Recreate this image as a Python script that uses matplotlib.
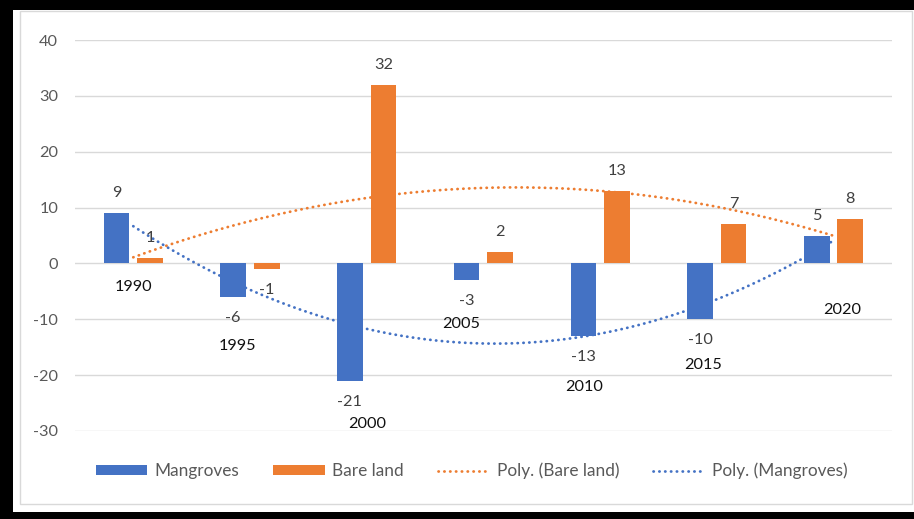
import numpy as np
import matplotlib.pyplot as plt
from matplotlib.patches import Rectangle, Patch
from matplotlib.lines import Line2D

# data
years = ['1990', '1995', '2000', '2005', '2010', '2015', '2020']
mangroves = [9, -6, -21, -3, -13, -10, 5]
bare_land = [1, -1, 32, 2, 13, 7, 8]

# the year labels were dragged around by hand in the original (data coords)
year_label_x = [0.0, 0.89, 2.0, 2.81, 3.86, 4.88, 6.07]
year_label_y = [-4.2, -14.8, -28.7, -10.9, -22.2, -18.1, -8.4]

blue = '#4472C4'
orange = '#ED7D31'
grey_txt = '#595959'
grid_c = '#D9D9D9'
fs = 11.7
fs_leg = 12.4

plt.rcParams['font.family'] = ['Lato', 'DejaVu Sans']
plt.rcParams['axes.unicode_minus'] = False

W, H = 914, 519
fig = plt.figure(figsize=(W / 100, H / 100), dpi=100)
fig.patch.set_facecolor('white')

# black frame (top, left, bottom) + light grey chart border
fig.add_artist(Rectangle((0, 1 - 10 / H), 1, 10 / H, transform=fig.transFigure, color='black', lw=0))
fig.add_artist(Rectangle((0, 0), 13 / W, 1, transform=fig.transFigure, color='black', lw=0))
fig.add_artist(Rectangle((0, 0), 1, 7 / H, transform=fig.transFigure, color='black', lw=0))
fig.add_artist(Rectangle((19.5 / W, 1 - 504 / H), (912 - 19.5) / W, (504 - 10.5) / H,
                         transform=fig.transFigure, fill=False, edgecolor=grid_c, lw=1))

ax = fig.add_axes([74.9 / W, 1 - 431 / H, 817 / W, 391 / H])
x = np.arange(len(years))
w = 0.22
off = 0.1435
ax.bar(x - off, mangroves, w, color=blue, zorder=2)
ax.bar(x + off, bare_land, w, color=orange, zorder=2)

# value labels
for xs_, vals in [(x - off, mangroves), (x + off, bare_land)]:
    for xi, v in zip(xs_, vals):
        ax.annotate(str(v), (xi, v), xytext=(0, 20 if v >= 0 else -21),
                    textcoords='offset pixels', ha='center', va='center',
                    fontsize=fs, color='#404040', zorder=5)

# polynomial (order 2) trendlines
dots = (0, (0.1, 2.0))
xs = np.linspace(0, len(years) - 1, 300)
for vals, c in [(bare_land, orange), (mangroves, blue)]:
    coef = np.polyfit(x, vals, 2)
    ax.plot(xs, np.polyval(coef, xs), color=c, lw=2.0, linestyle=dots,
            dash_capstyle='round', zorder=4)

# year labels
for xx, yy, yr in zip(year_label_x, year_label_y, years):
    ax.text(xx, yy, yr, ha='center', va='center', fontsize=fs, color='#111111', zorder=5)

ax.set_xlim(-0.5, len(years) - 0.5)
ax.set_ylim(-30, 40)
ax.set_yticks(range(-30, 41, 10))
ax.set_xticks([])
ax.tick_params(axis='y', length=0, pad=12, labelsize=fs, labelcolor=grey_txt)
ax.yaxis.grid(True, color=grid_c, lw=1)
ax.set_axisbelow(True)
for s in ax.spines.values():
    s.set_visible(False)
ax.patch.set_alpha(0)

handles = [Patch(facecolor=blue), Patch(facecolor=orange),
           Line2D([], [], color=orange, lw=2.0, linestyle=dots, dash_capstyle='round'),
           Line2D([], [], color=blue, lw=2.0, linestyle=dots, dash_capstyle='round')]
labels = ['Mangroves', 'Bare land', 'Poly. (Bare land)', 'Poly. (Mangroves)']
fig.legend(handles, labels, loc='center', bbox_to_anchor=(0.516, 1 - 471 / H), ncol=4,
           frameon=False, handlelength=3.0, handleheight=0.48, handletextpad=0.4,
           columnspacing=2.0, fontsize=fs_leg, labelcolor=grey_txt)

fig.savefig('out.png', dpi=100)
